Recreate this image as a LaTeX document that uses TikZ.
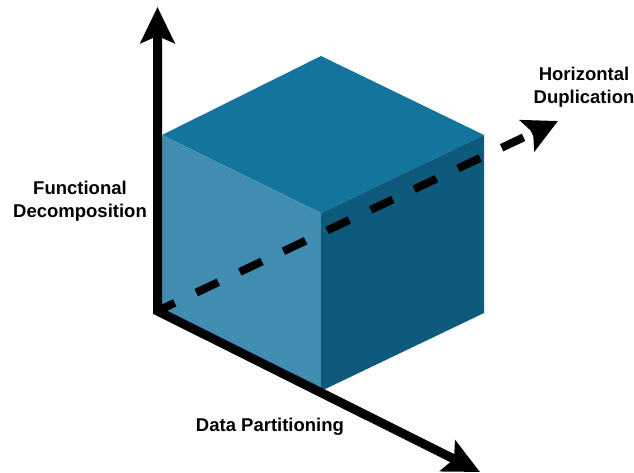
\documentclass[tikz,border=0pt]{standalone}
\usepackage{fontspec}
\setmainfont{Liberation Sans}
\usetikzlibrary{arrows.meta,calc}
\definecolor{topc}{RGB}{19,116,158}
\definecolor{leftc}{RGB}{65,141,178}
\definecolor{rightc}{RGB}{14,90,125}
\begin{document}
\begin{tikzpicture}[x=1pt,y=-1pt,
  lbl/.style={font=\fontsize{18.5}{22.5}\selectfont\bfseries, align=center, text=black, inner sep=0pt},
  headtip/.tip={Stealth[length=36pt,width=34pt,inset=7pt]},
  axisline/.style={line width=9pt, line join=miter},
  dashline/.style={line width=8pt, dash pattern=on 24.5pt off 23.8pt, dash phase=5.5pt}]
\useasboundingbox (0,0) rectangle (634,472);
% cube vertices
\coordinate (T) at (321,56);
\coordinate (L) at (162,135);
\coordinate (R) at (484,135);
\coordinate (F) at (321,213);
\coordinate (LB) at (162,312);
\coordinate (FB) at (321,391);
\coordinate (RB) at (484,313);
% faces
\fill[topc] (T) -- (R) -- (F) -- (L) -- cycle;
\fill[leftc] (L) -- (F) -- (FB) -- (LB) -- cycle;
\fill[rightc] (F) -- (R) -- (RB) -- (FB) -- cycle;
% axes
\coordinate (O) at (157.5,311);
\coordinate (vtip) at (157.5,7);
\coordinate (ptip) at (480,472);
\coordinate (htip) at (558,121);
\draw[axisline, {headtip}-{headtip}] (vtip) -- (O) -- (ptip);
\draw[dashline] (O) -- ($(O)!0.914!(htip)$) coordinate (hd1);
\draw[line width=8pt, -{Stealth[length=34pt,width=34pt,inset=6.5pt]}] ($(O)!0.935!(htip)$) coordinate (hs) -- (htip);
% labels
\node[lbl] (fd) at (80,201) {Functional\\Decomposition};
\node[lbl] (hd) at (584,87) {Horizontal\\Duplication};
\node[lbl] (dp) at (270,427) {Data Partitioning};
\end{tikzpicture}
\end{document}
